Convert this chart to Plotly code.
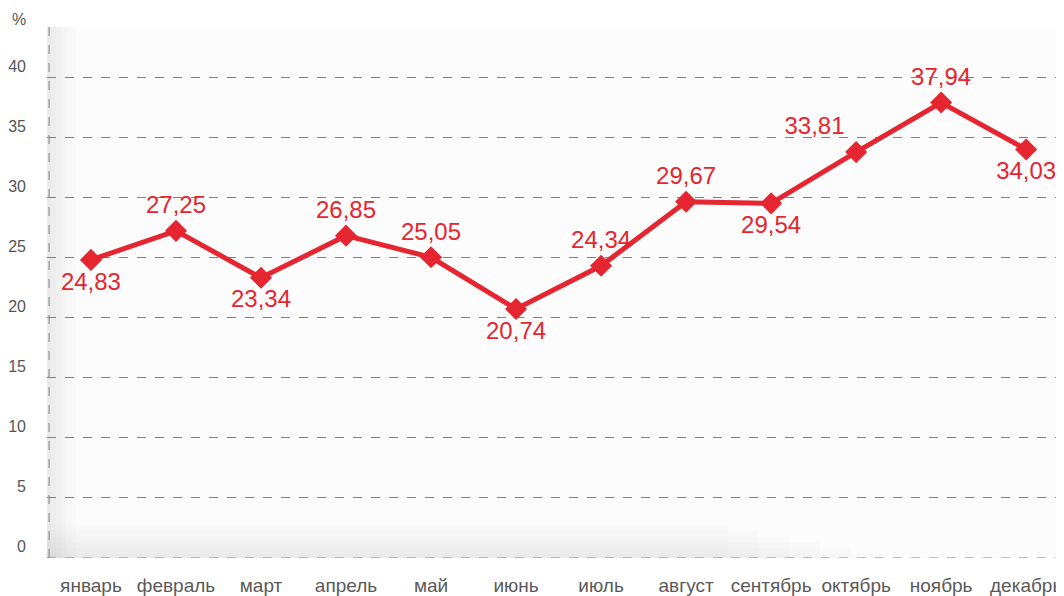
import plotly.graph_objects as go

months = ["январь", "февраль", "март", "апрель", "май", "июнь",
          "июль", "август", "сентябрь", "октябрь", "ноябрь", "декабрь"]
values = [24.83, 27.25, 23.34, 26.85, 25.05, 20.74,
          24.34, 29.67, 29.54, 33.81, 37.94, 34.03]
label_pos = ["bottom center", "top center", "bottom center", "top center", "top center", "bottom center",
             "top center", "top center", "bottom center", "top left", "top center", "bottom center"]
y_ticks = [0, 5, 10, 15, 20, 25, 30, 35, 40]

labels = [f"{v:.2f}".replace(".", ",") for v in values]
RED = "#e5252f"
GRID = "#808080"

fig = go.Figure()
fig.add_trace(go.Scatter(
    x=list(range(len(months))), y=values,
    mode="lines+markers+text",
    line=dict(color=RED, width=5),
    marker=dict(symbol="diamond", size=17, color=RED),
    text=labels, textposition=label_pos,
    textfont=dict(color=RED, size=24, family="Liberation Sans, Arial"),
    cliponaxis=False, showlegend=False,
))

# soft shadow along the left and bottom edges of the plot panel
shadows = []
for k in range(6):
    shadows.append(dict(type="rect", xref="paper", yref="paper", layer="below",
                        x0=0, x1=0.004 + 0.005 * k, y0=0, y1=1,
                        fillcolor="#000000", opacity=0.011, line=dict(width=0)))
    shadows.append(dict(type="rect", xref="paper", yref="paper", layer="below",
                        x0=0, x1=0.82 - 0.03 * k, y0=0, y1=0.008 + 0.011 * k,
                        fillcolor="#000000", opacity=0.013, line=dict(width=0)))

fig.update_layout(
    width=1056, height=588,
    margin=dict(l=38, r=0, t=19, b=36),
    paper_bgcolor="white", plot_bgcolor="#fcfcfc",
    font=dict(family="Liberation Sans, Arial", color="#555555"),
    xaxis=dict(
        tickmode="array", tickvals=list(range(len(months))), ticktext=months,
        range=[-0.517, 11.445], showgrid=False, zeroline=False, showline=False,
        tickfont=dict(size=19, color="#5a5a5a"), ticks="", ticklabelstandoff=14,
    ),
    yaxis=dict(
        tickvals=y_ticks, range=[0, 44.23],
        showgrid=True, gridcolor=GRID, griddash="dash", gridwidth=1,
        zeroline=False, showline=False, ticklabelposition="outside top",
        tickfont=dict(size=16, color="#555555"), ticks="", ticklabelstandoff=20,
    ),
    shapes=shadows + [
        dict(type="line", xref="paper", yref="paper", x0=0.002, x1=0.002, y0=0, y1=1,
             line=dict(color=GRID, width=1, dash="dash")),
        dict(type="line", xref="paper", yref="y", x0=0, x1=1, y0=0, y1=0,
             line=dict(color=GRID, width=1, dash="dash")),
    ],
    annotations=[
        dict(text="%", xref="paper", yref="paper", x=-0.0275, y=1.015, xanchor="center",
             yanchor="middle", showarrow=False, font=dict(size=16, color="#555555")),
    ],
)

fig.write_html("out.html")
